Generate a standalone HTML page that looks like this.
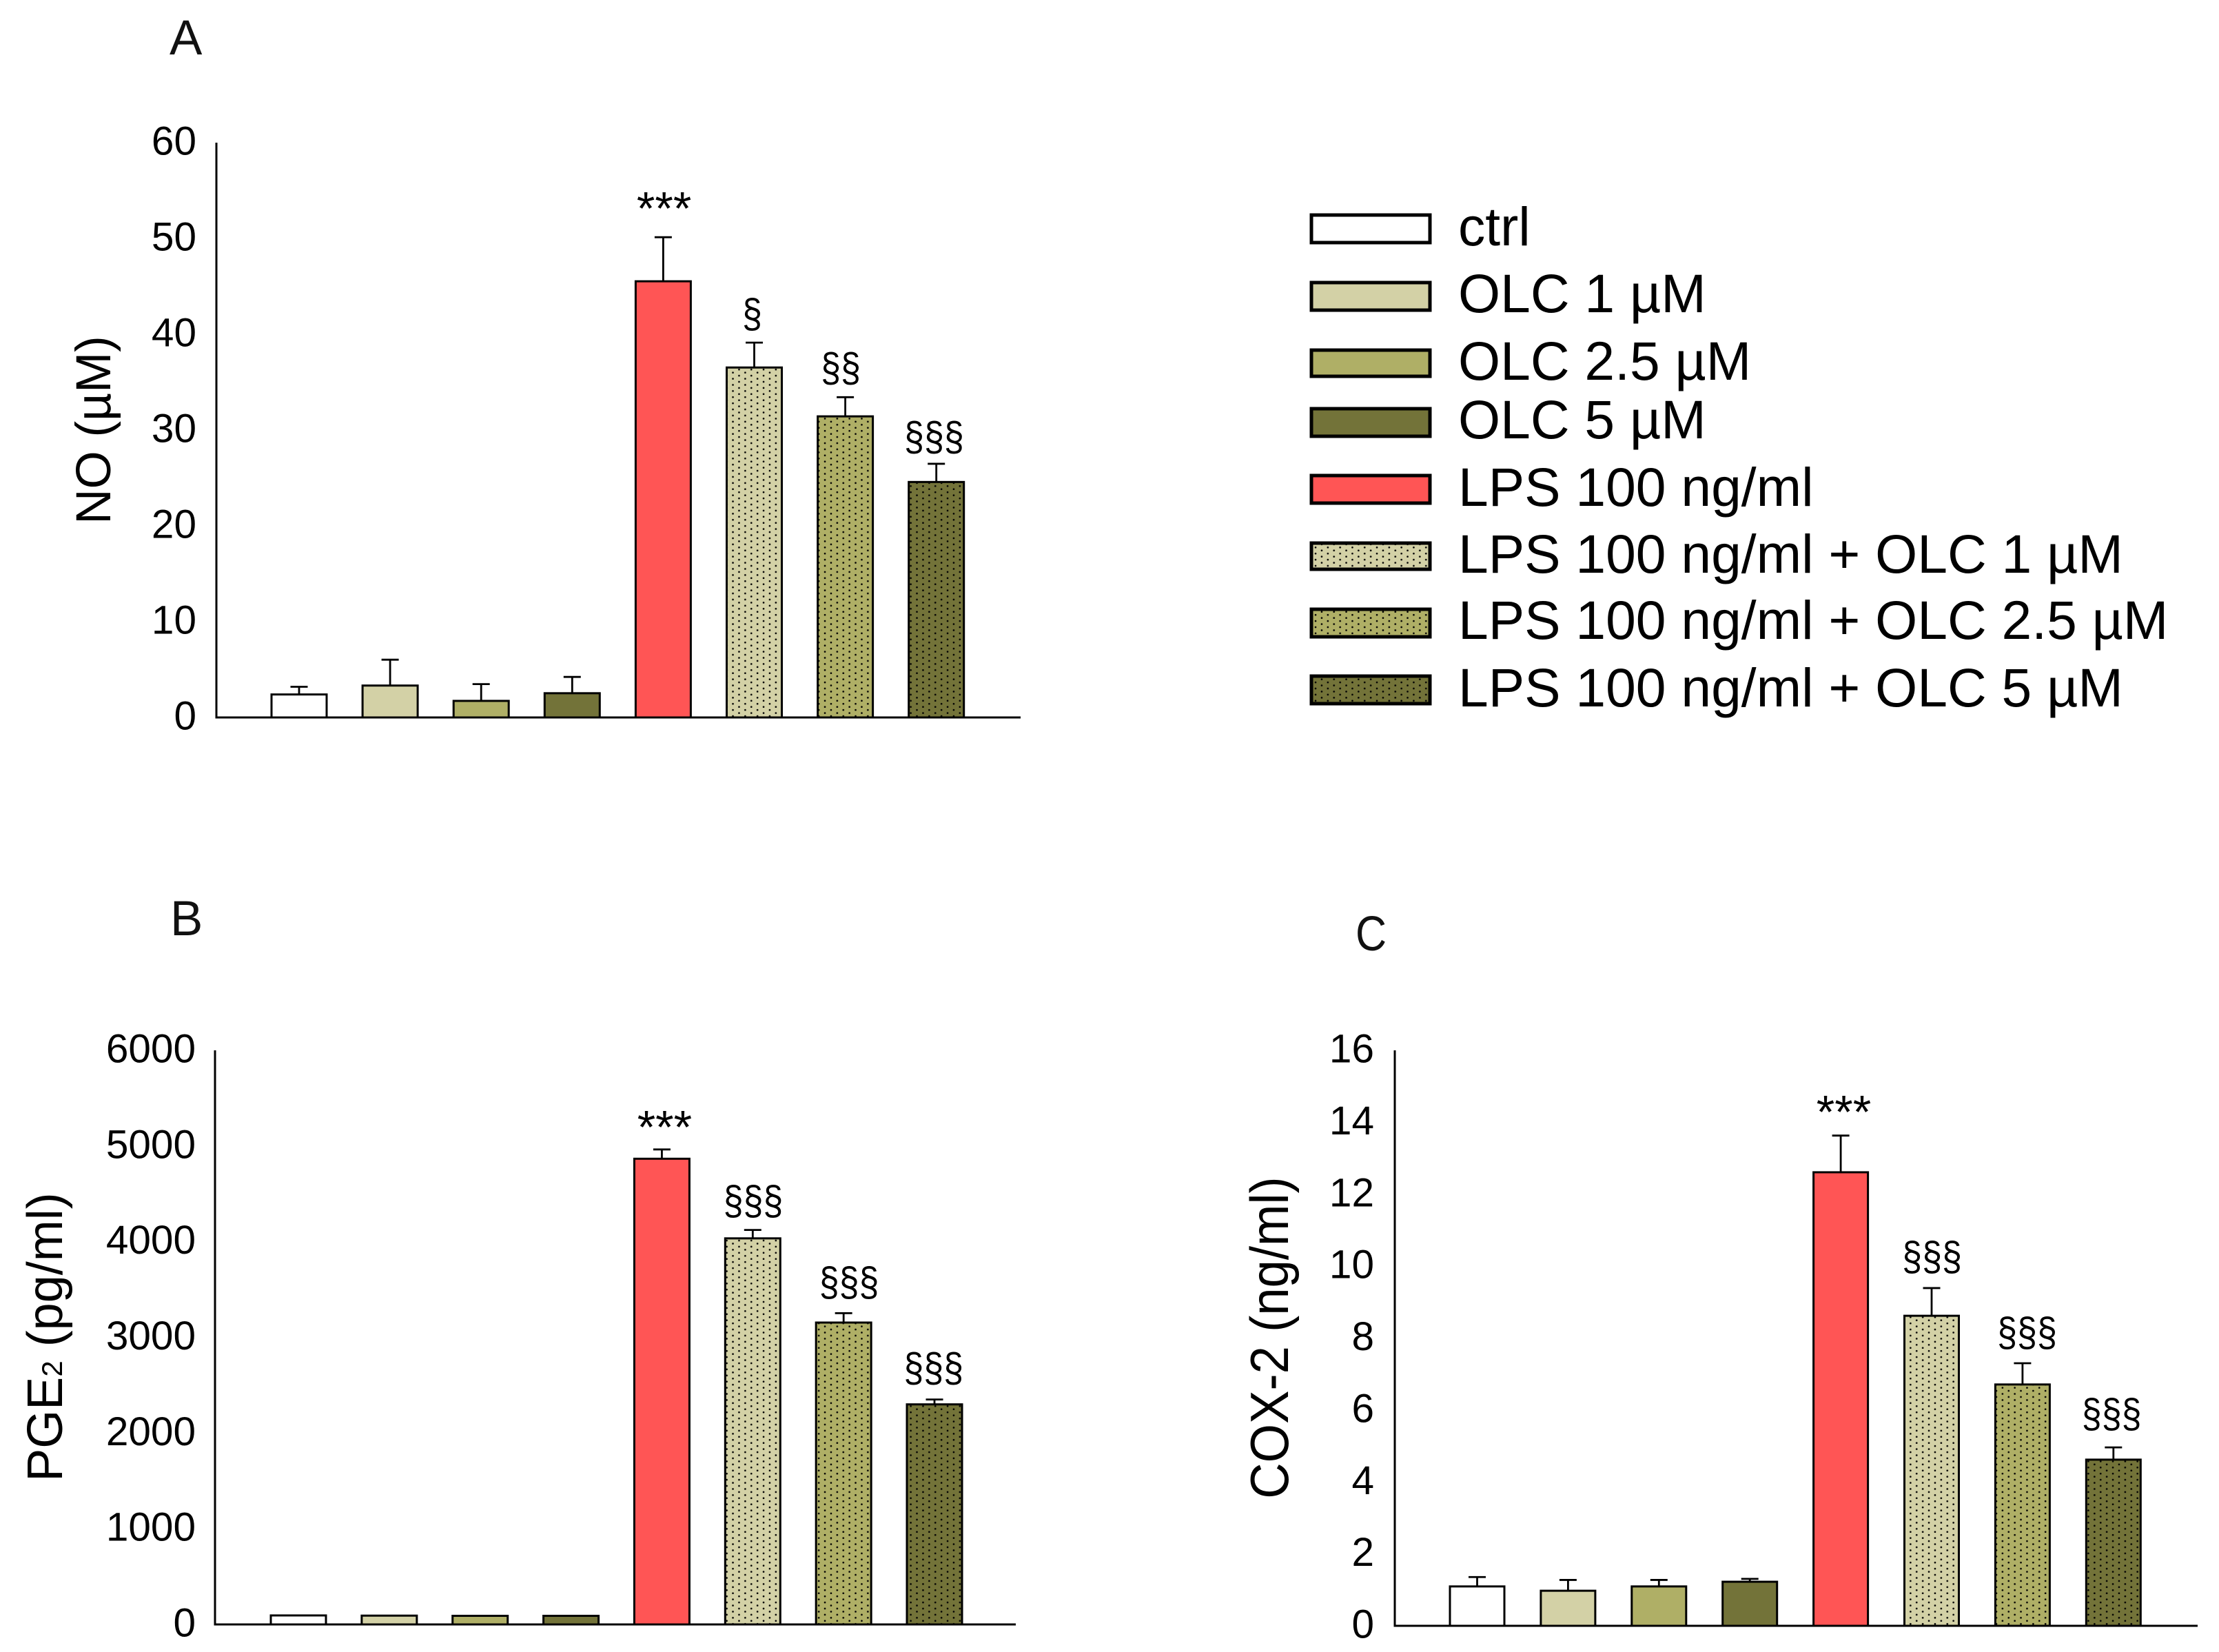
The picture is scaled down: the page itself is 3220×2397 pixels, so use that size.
<!DOCTYPE html>
<html lang="en">
<head>
<meta charset="utf-8">
<title>NO, PGE2 and COX-2 bar charts</title>
<style>
html, body { margin: 0; padding: 0; background: #ffffff; }
svg { display: block; font-family: "Liberation Sans", Arial, sans-serif; }
</style>
</head>
<body>
<svg id="figure" xmlns="http://www.w3.org/2000/svg" width="3220" height="2397" viewBox="0 0 3220 2397">
  <defs>
    <pattern id="dots-light" patternUnits="userSpaceOnUse" width="17.8" height="8.9">
      <rect width="17.8" height="8.9" fill="#D3D1A6"/>
      <circle cx="4.45" cy="2.2" r="1.3" fill="#000"/>
      <circle cx="13.35" cy="6.65" r="1.3" fill="#000"/>
    </pattern>
    <pattern id="dots-mid" patternUnits="userSpaceOnUse" width="17.8" height="8.9">
      <rect width="17.8" height="8.9" fill="#AFAF66"/>
      <circle cx="4.45" cy="2.2" r="1.3" fill="#000"/>
      <circle cx="13.35" cy="6.65" r="1.3" fill="#000"/>
    </pattern>
    <pattern id="dots-dark" patternUnits="userSpaceOnUse" width="17.8" height="8.9">
      <rect width="17.8" height="8.9" fill="#737339"/>
      <circle cx="4.45" cy="2.2" r="1.3" fill="#000"/>
      <circle cx="13.35" cy="6.65" r="1.3" fill="#000"/>
    </pattern>
  </defs>
  <rect width="3220" height="2397" fill="#ffffff"/>

  <text x="246" y="79" font-size="71" fill="#111">A</text>
  <text x="247" y="1357" font-size="71" fill="#111">B</text>
  <text transform="translate(1967 1379) scale(0.88 1)" font-size="71" fill="#111">C</text>

  <text transform="translate(160 624) rotate(-90)" text-anchor="middle" font-size="71">NO (µM)</text>
  <text transform="translate(90 1940) rotate(-90)" text-anchor="middle" font-size="72">PGE<tspan font-size="42">2</tspan> (pg/ml)</text>
  <text transform="translate(1869 1941) rotate(-90) scale(0.93 1)" text-anchor="middle" font-size="78">COX-2 (ng/ml)</text>

  <g font-size="78.6" fill="#000">
    <g>
      <rect x="1903" y="312" width="172" height="40" fill="#ffffff" stroke="#000" stroke-width="5"/>
      <text x="2116" y="356">ctrl</text>
    </g>
    <g>
      <rect x="1903" y="410" width="172" height="40" fill="#D3D1A6" stroke="#000" stroke-width="5"/>
      <text x="2116" y="453">OLC 1 µM</text>
    </g>
    <g>
      <rect x="1903" y="508" width="172" height="38" fill="#AFAF66" stroke="#000" stroke-width="5"/>
      <text x="2116" y="551">OLC 2.5 µM</text>
    </g>
    <g>
      <rect x="1903" y="593" width="172" height="40" fill="#737339" stroke="#000" stroke-width="5"/>
      <text x="2116" y="636">OLC 5 µM</text>
    </g>
    <g>
      <rect x="1903" y="690" width="172" height="40" fill="#FF5555" stroke="#000" stroke-width="5"/>
      <text x="2116" y="734">LPS 100 ng/ml</text>
    </g>
    <g>
      <rect x="1903" y="788" width="172" height="38" fill="url(#dots-light)" stroke="#000" stroke-width="5"/>
      <text x="2116" y="831">LPS 100 ng/ml + OLC 1 µM</text>
    </g>
    <g>
      <rect x="1903" y="884" width="172" height="40" fill="url(#dots-mid)" stroke="#000" stroke-width="5"/>
      <text x="2116" y="927">LPS 100 ng/ml + OLC 2.5 µM</text>
    </g>
    <g>
      <rect x="1903" y="981" width="172" height="40" fill="url(#dots-dark)" stroke="#000" stroke-width="5"/>
      <text x="2116" y="1025">LPS 100 ng/ml + OLC 5 µM</text>
    </g>
  </g>
</svg>
<script>
// ---- chart data ----
var categories = ['ctrl', 'OLC 1 µM', 'OLC 2.5 µM', 'OLC 5 µM', 'LPS 100 ng/ml', 'LPS 100 ng/ml + OLC 1 µM', 'LPS 100 ng/ml + OLC 2.5 µM', 'LPS 100 ng/ml + OLC 5 µM'];

var noValues = [2.4, 3.33, 1.73, 2.53, 45.53, 36.53, 31.43, 24.58];
var noErrors = [0.8, 2.7, 1.75, 1.7, 4.6, 2.6, 2.0, 1.9];
var noTicks = [0, 10, 20, 30, 40, 50, 60];
var noSigLabels = ['***', '§', '§§', '§§§'];
var noSigCategories = [4.009, 4.977, 5.95, 6.975];
var noSigLevels = [51.49, 40.72, 35.07, 27.87];

var pgeValues = [94, 92, 90, 90, 4867, 4035, 3155, 2300];
var pgeErrors = [0, 0, 0, 0, 97, 88, 98, 51];
var pgeTicks = [0, 1000, 2000, 3000, 4000, 5000, 6000];
var pgeSigLabels = ['***', '§§§', '§§§', '§§§'];
var pgeSigCategories = [4.03, 5.005, 6.06, 6.99];
var pgeSigLevels = [5030, 4286, 3436, 2540];

var coxValues = [1.095, 0.975, 1.095, 1.225, 12.61, 8.62, 6.71, 4.62];
var coxErrors = [0.26, 0.30, 0.18, 0.08, 1.02, 0.77, 0.59, 0.34];
var coxTicks = [0, 2, 4, 6, 8, 10, 12, 14, 16];
var coxSigLabels = ['***', '§§§', '§§§', '§§§'];
var coxSigCategories = [4.033, 5.004, 6.05, 6.98];
var coxSigLevels = [13.84, 9.89, 7.78, 5.52];

var barFills = ['#ffffff', '#D3D1A6', '#AFAF66', '#737339', '#FF5555', 'url(#dots-light)', 'url(#dots-mid)', 'url(#dots-dark)'];

var SVG_NS = 'http://www.w3.org/2000/svg';
var figure = document.getElementById('figure');

function make(tag, parent, attrs) {
  var el = document.createElementNS(SVG_NS, tag);
  for (var k in attrs) { el.setAttribute(k, attrs[k]); }
  parent.appendChild(el);
  return el;
}

function drawPanel(p, values, errors, ticks, sigLabels, sigCategories, sigLevels) {
  var yMax = ticks[ticks.length - 1];
  function yScale(v) { return p.bottom - (v / yMax) * (p.bottom - p.top); }
  function xScale(i) { return p.firstBarLeft + p.step * i; }

  var group = make('g', figure, {});
  
  

  ticks.forEach(function (t) {
    var label = make('text', group, { x: p.labelRight, y: yScale(t) + 17.5, 'text-anchor': 'end', 'font-size': 58.5, fill: '#000' });
    
    
    label.textContent = String(t);
  });

  values.forEach(function (v, i) {
    var left = xScale(i);
    var cx = left + p.barWidth / 2;
    if (errors[i] > 0) {
      var errTop = yScale(v + errors[i]);
      var stem = make('line', group, { x1: cx, x2: cx, y1: yScale(v), y2: errTop, stroke: '#000', 'stroke-width': 2.8 });
      
      
      var cap = make('line', group, { x1: cx - 12.5, x2: cx + 12.5, y1: errTop, y2: errTop, stroke: '#000', 'stroke-width': 2.8 });
      
      
    }
    var bar = make('rect', group, { x: left, y: yScale(v), width: p.barWidth, height: p.bottom - yScale(v), fill: barFills[i], stroke: '#000', 'stroke-width': 3 });
    
    
    var tip = make('title', bar, {});
    tip.textContent = categories[i];
  });

  sigLabels.forEach(function (s, i) {
    var stars = s.charAt(0) === '*';
    var sx = xScale(sigCategories[i]) + p.barWidth / 2;
    var sy = yScale(sigLevels[i]);
    var mark = make('text', group, { transform: 'translate(' + sx + ' ' + sy + ') scale(1 ' + (stars ? 1 : 1.15) + ')', 'text-anchor': 'middle', 'font-size': stars ? 68 : 52, fill: '#000' });
    
    
    mark.textContent = s;
  });

  var yAxis = make('line', group, { x1: p.axisX, x2: p.axisX, y1: p.top, y2: p.bottom + 1.5, stroke: '#000', 'stroke-width': 3 });
  
  
  var xAxis = make('line', group, { x1: p.axisX, x2: p.axisRight, y1: p.bottom, y2: p.bottom, stroke: '#000', 'stroke-width': 3 });
  
  
}

drawPanel({ id: 'no', axisX: 314, axisRight: 1481, top: 207, bottom: 1041, firstBarLeft: 394, step: 132.1, barWidth: 80, labelRight: 285 },
  noValues, noErrors, noTicks, noSigLabels, noSigCategories, noSigLevels);
drawPanel({ id: 'pge2', axisX: 312, axisRight: 1474, top: 1524, bottom: 2357, firstBarLeft: 393, step: 131.86, barWidth: 80, labelRight: 284 },
  pgeValues, pgeErrors, pgeTicks, pgeSigLabels, pgeSigCategories, pgeSigLevels);
drawPanel({ id: 'cox2', axisX: 2024, axisRight: 3189, top: 1524, bottom: 2359, firstBarLeft: 2104, step: 131.9, barWidth: 79, labelRight: 1994 },
  coxValues, coxErrors, coxTicks, coxSigLabels, coxSigCategories, coxSigLevels);
</script>
</body>
</html>
